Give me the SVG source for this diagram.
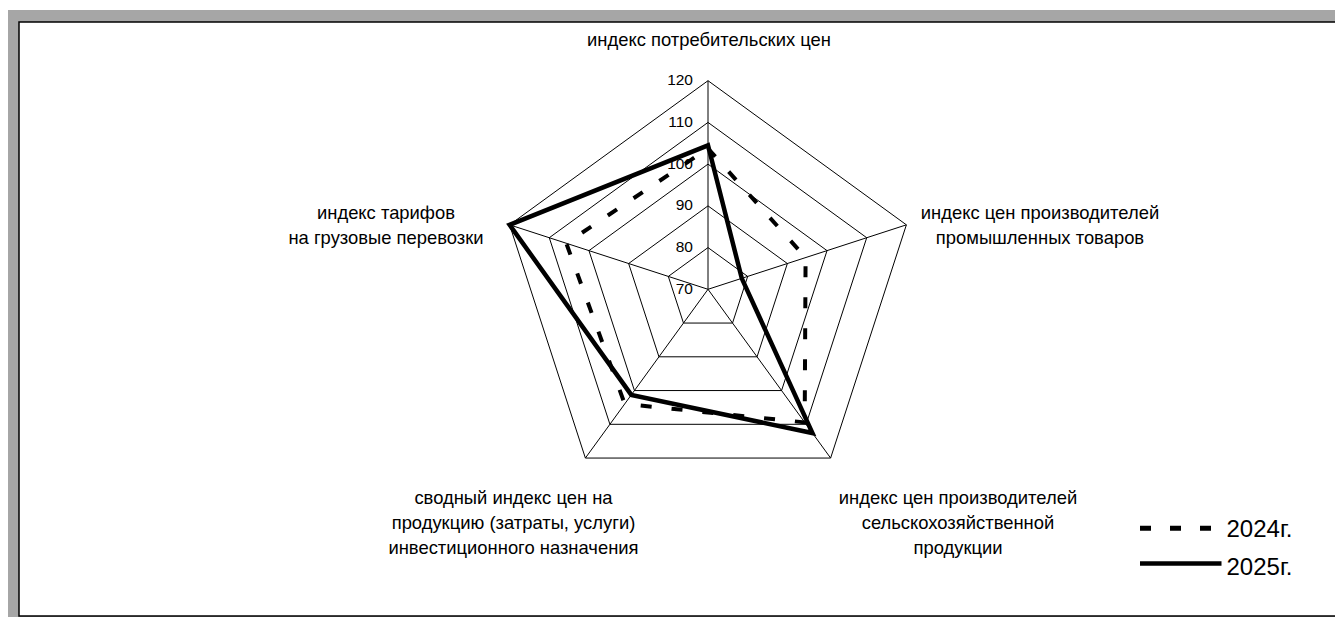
<svg xmlns="http://www.w3.org/2000/svg" width="1335" height="617" viewBox="0 0 1335 617">
<style>
.grid{fill:none;stroke:#000;stroke-width:1}
.lbl{font-family:"Liberation Sans",Arial,sans-serif;font-size:18.4px;fill:#000;text-anchor:middle}
.tick{font-family:"Liberation Sans",Arial,sans-serif;font-size:15.5px;fill:#000;text-anchor:end}
.leg{font-family:"Liberation Sans",Arial,sans-serif;font-size:24px;fill:#000}
.s2024{fill:none;stroke:#000;stroke-width:4;stroke-dasharray:11 20;stroke-linejoin:miter}
.s2025{fill:none;stroke:#000;stroke-width:4.5;stroke-linejoin:miter}
</style>
<rect x="0" y="0" width="1335" height="617" fill="#fff"/>
<g id="frame">
<rect x="8" y="10" width="1335" height="610" fill="#a6a6a6"/>
<rect x="19" y="22" width="1330" height="594" fill="#fff" stroke="#000" stroke-width="1.5"/>
</g>
<g id="grid">
<polygon class="grid" points="708,247.58 747.68,276.41 732.52,323.05 683.48,323.05 668.32,276.41"/>
<polygon class="grid" points="708,205.86 787.36,263.52 757.05,356.8 658.95,356.8 628.64,263.52"/>
<polygon class="grid" points="708,164.14 827.03,250.62 781.57,390.56 634.43,390.56 588.97,250.62"/>
<polygon class="grid" points="708,122.42 866.71,237.73 806.09,424.31 609.91,424.31 549.29,237.73"/>
<polygon class="grid" points="708,80.7 906.39,224.84 830.61,458.06 585.39,458.06 509.61,224.84"/>
<path class="grid" d="M708,289.3L708,80.7M708,289.3L906.39,224.84M708,289.3L830.61,458.06M708,289.3L585.39,458.06M708,289.3L509.61,224.84"/>
</g>
<g id="ticks">
<text class="tick" x="693" y="85.2">120</text>
<text class="tick" x="693" y="127">110</text>
<text class="tick" x="693" y="168.6">100</text>
<text class="tick" x="693" y="210.4">90</text>
<text class="tick" x="693" y="252">80</text>
<text class="tick" x="693" y="293.8">70</text>
</g>
<g id="connectors">
<polygon id="series-2024" class="s2024" points="708,148.5 805.58,257.59 804.69,422.38 624.71,403.94 566.29,243.26"/>
<polygon id="series-2025" class="s2025" points="708,145.3 741.76,278.33 812.45,433.06 631.29,394.88 509.61,224.84"/>
</g>
<g id="axis-cpi"><text class="lbl" x="709" y="46">индекс потребительских цен</text></g>
<g id="axis-industrial"><text class="lbl" x="1040" y="219"><tspan x="1040">индекс цен производителей</tspan><tspan x="1040" dy="25">промышленных товаров</tspan></text></g>
<g id="axis-agri"><text class="lbl" x="958" y="503.5"><tspan x="958">индекс цен производителей</tspan><tspan x="958" dy="25">сельскохозяйственной</tspan><tspan x="958" dy="25">продукции</tspan></text></g>
<g id="axis-invest"><text class="lbl" x="513.5" y="503.5"><tspan x="513.5">сводный индекс цен на</tspan><tspan x="513.5" dy="25">продукцию (затраты, услуги)</tspan><tspan x="513.5" dy="25">инвестиционного назначения</tspan></text></g>
<g id="axis-freight"><text class="lbl" x="386" y="218.5"><tspan x="386">индекс тарифов</tspan><tspan x="386" dy="25">на грузовые перевозки</tspan></text></g>
<g id="legend">
<line x1="1140" y1="528.3" x2="1212" y2="528.3" stroke="#000" stroke-width="5" stroke-dasharray="11 19"/>
<text class="leg" x="1226.5" y="537.3">2024г.</text>
<line x1="1140" y1="563.5" x2="1221.5" y2="563.5" stroke="#000" stroke-width="4.5"/>
<text class="leg" x="1226.5" y="575">2025г.</text>
</g>
</svg>
